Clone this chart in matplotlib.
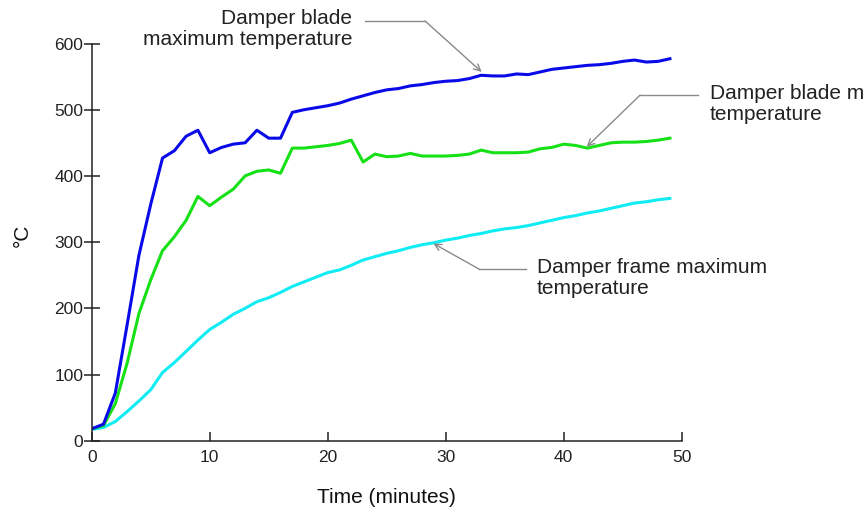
import matplotlib
matplotlib.use("Agg")
import matplotlib.pyplot as plt

plt.rcParams['font.family'] = ['Liberation Sans', 'DejaVu Sans']

minutes = list(range(0, 50))

blade_max = [18, 25, 72, 175, 280, 357, 427, 438, 460, 469,
             435, 443, 448, 450, 469, 457, 457, 496, 500, 503,
             506, 510, 516, 521, 526, 530, 532, 536, 538, 541,
             543, 544, 547, 552, 551, 551, 554, 553, 557, 561,
             563, 565, 567, 568, 570, 573, 575, 572, 573, 577]

blade_mean = [18, 23, 56, 117, 192, 243, 287, 308, 333, 369,
              355, 368, 380, 400, 407, 409, 404, 442, 442, 444,
              446, 449, 454, 421, 433, 429, 430, 434, 430, 430,
              430, 431, 433, 439, 435, 435, 435, 436, 441, 443,
              448, 446, 442, 446, 450, 451, 451, 452, 454, 457]

frame_max = [17, 20, 29, 44, 60, 77, 103, 118, 135, 152,
             168, 179, 191, 200, 210, 216, 224, 233, 240, 247,
             254, 258, 265, 273, 278, 283, 287, 292, 296, 299,
             303, 306, 310, 313, 317, 320, 322, 325, 329, 333,
             337, 340, 344, 347, 351, 355, 359, 361, 364, 366]

x_ticks = [0, 10, 20, 30, 40, 50]
y_ticks = [0, 100, 200, 300, 400, 500, 600]

fig = plt.figure(figsize=(8.66, 5.13), dpi=100)
ax = fig.add_axes([0.1059, 0.1409, 0.6813, 0.7743])

ax.plot(minutes, frame_max, color='#10ecf4', lw=2.2, solid_joinstyle='round')
ax.plot(minutes, blade_mean, color='#16e016', lw=2.2, solid_joinstyle='round')
ax.plot(minutes, blade_max, color='#0a0ae8', lw=2.2, solid_joinstyle='round')

ax.set_xlim(0, 50)
ax.set_ylim(0, 600)
ax.set_xticks(x_ticks)
ax.set_yticks(y_ticks)
for s in ['top', 'right']:
    ax.spines[s].set_visible(False)
for s in ['left', 'bottom']:
    ax.spines[s].set_linewidth(1.1)
    ax.spines[s].set_color('#222222')

ax.tick_params(axis='x', direction='in', length=6.5, width=1.1, pad=7,
               labelsize=12.5, colors='#222222')
ax.tick_params(axis='y', direction='inout', length=12, width=1.1, pad=0,
               labelsize=12.5, colors='#222222')

ax.set_xlabel('Time (minutes)', fontsize=15, labelpad=16, color='#111111')
fig.text(22 / 866, 1 - 235 / 513, '°C', rotation=90, fontsize=15,
         color='#111111', ha='center', va='center')

grey = '#8a8a8a'
txt_kw = dict(fontsize=15, color='#222222', linespacing=1.15, annotation_clip=False)
arrow_kw = dict(arrowstyle='->', color=grey, lw=1.0, shrinkA=0, shrinkB=0,
                mutation_scale=12)

# Annotation 1: blade maximum
ax.annotate('Damper blade\nmaximum temperature', xy=(22.06, 622), ha='right',
            va='center', **txt_kw)
ax.plot([23.16, 28.25], [634, 634], color=grey, lw=1.0, clip_on=False)
ax.annotate('', xy=(33.05, 557), xytext=(28.25, 634), arrowprops=arrow_kw,
            annotation_clip=False)

# Annotation 2: blade mean (cut at the figure edge in the original)
ax.annotate('Damper blade m\ntemperature', xy=(52.4, 509), ha='left',
            va='center', **txt_kw)
ax.plot([51.36, 46.47], [522, 522], color=grey, lw=1.0, clip_on=False)
ax.annotate('', xy=(41.95, 444), xytext=(46.47, 522), arrowprops=arrow_kw,
            annotation_clip=False)

# Annotation 3: frame maximum
ax.annotate('Damper frame maximum\ntemperature', xy=(37.7, 246), ha='left',
            va='center', **txt_kw)
ax.plot([36.8, 32.85], [259, 259], color=grey, lw=1.0, clip_on=False)
ax.annotate('', xy=(28.95, 298), xytext=(32.85, 259), arrowprops=arrow_kw,
            annotation_clip=False)

fig.savefig('out.png', dpi=100)
